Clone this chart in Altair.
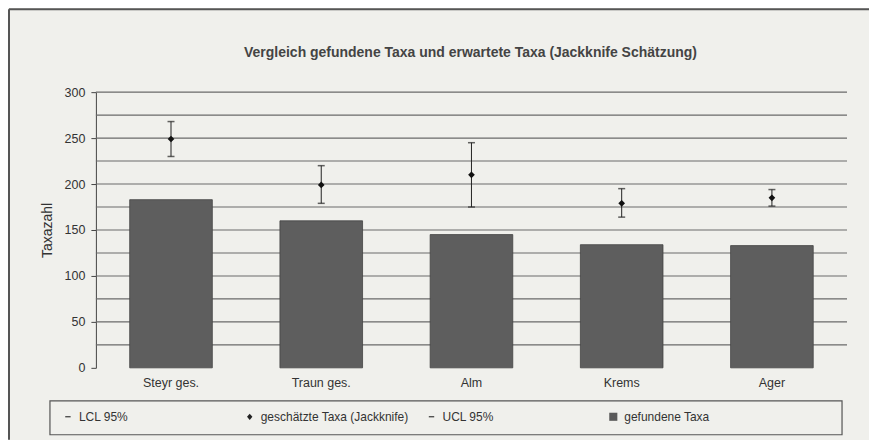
import altair as alt
import pandas as pd

categories = ["Steyr ges.", "Traun ges.", "Alm", "Krems", "Ager"]
found_taxa = [183, 160, 145, 134, 133]
jackknife = [249, 199, 210, 179, 185]
lcl_95 = [230, 179, 175, 164, 176]
ucl_95 = [268, 220, 245, 195, 194]
grid_values = [25, 50, 75, 100, 125, 150, 175, 200, 225, 250, 275, 300]
y_tick_values = [0, 50, 100, 150, 200, 250, 300]
title_text = "Vergleich gefundene Taxa und erwartete Taxa (Jackknife Schätzung)"
legend_names = ["LCL 95%", "geschätzte Taxa (Jackknife)", "UCL 95%", "gefundene Taxa"]
legend_colors = ["#222222", "#222222", "#222222", "#5a5a5a"]
legend_shapes = [
    "M-0.6,-0.12H0.6V0.12H-0.6Z",
    "M0,-0.7L0.6,0L0,0.7L-0.6,0Z",
    "M-0.6,-0.12H0.6V0.12H-0.6Z",
    "M-0.9,-0.9H0.9V0.9H-0.9Z",
]

df = pd.DataFrame({
    "cat": categories,
    "found": found_taxa,
    "jk": jackknife,
    "lcl": lcl_95,
    "ucl": ucl_95,
})
grid_df = pd.DataFrame({"g": grid_values})
# legend helper points sit hidden behind the first bar
legend_df = pd.DataFrame({"series": legend_names, "cat": [categories[0]] * 4, "v": [100] * 4})
one = pd.DataFrame({"a": [0]})

FONT = "Liberation Sans"
W, H = 752, 276

x_scale = alt.Scale(paddingInner=0.45, paddingOuter=0.225)
x_axis = alt.Axis(labelAngle=0, labelFont=FONT, labelFontSize=12.5,
                  labelColor="#333333", labelPadding=9, ticks=False, domain=False)
y_scale = alt.Scale(domain=[0, 300], nice=False)
y_axis = alt.Axis(values=y_tick_values, grid=False, tickSize=5, tickColor="#444444",
                  domainColor="#444444", labelFont=FONT, labelFontSize=12.5,
                  labelColor="#333333", labelPadding=6, titleFont=FONT, titleFontSize=14,
                  titleFontWeight="normal", titleColor="#333333", titlePadding=10)


def X():
    return alt.X("cat:N", sort=categories, title=None, scale=x_scale, axis=x_axis)


def Y(field):
    return alt.Y(field, scale=y_scale, title="Taxazahl", axis=y_axis)


grid = alt.Chart(grid_df).mark_rule(color="#6a6a6a", strokeWidth=1.1).encode(
    y=Y("g:Q")
)

legend_layer = alt.Chart(legend_df).mark_point(filled=True, opacity=1).encode(
    x=X(),
    y=Y("v:Q"),
    color=alt.Color("series:N", scale=alt.Scale(domain=legend_names, range=legend_colors),
                    legend=alt.Legend(title=None, orient="none", legendX=-34, legendY=319,
                                      direction="horizontal", columns=4, gridAlign="all",
                                      columnPadding=16, symbolSize=81, symbolOpacity=1,
                                      symbolStrokeWidth=0, labelOffset=5,
                                      labelFont=FONT, labelFontSize=12,
                                      labelColor="#333333", labelLimit=300)),
    shape=alt.Shape("series:N", scale=alt.Scale(domain=legend_names, range=legend_shapes)),
)

bars = alt.Chart(df).mark_bar(color="#5e5e5e", stroke="#444444", strokeWidth=0.8).encode(
    x=X(),
    y=Y("found:Q"),
)

err = alt.Chart(df).mark_rule(color="#222222", strokeWidth=1).encode(
    x=X(),
    y=Y("lcl:Q"),
    y2="ucl:Q",
)
lcl_tick = alt.Chart(df).mark_tick(color="#222222", size=7, thickness=1.5, orient="horizontal").encode(
    x=X(),
    y=Y("lcl:Q"),
)
ucl_tick = alt.Chart(df).mark_tick(color="#222222", size=7, thickness=1.5, orient="horizontal").encode(
    x=X(),
    y=Y("ucl:Q"),
)
pts = alt.Chart(df).mark_point(shape="diamond", filled=True, color="#111111", size=45, opacity=1).encode(
    x=X(),
    y=Y("jk:Q"),
)

title_mark = alt.Chart(one).mark_text(font=FONT, fontSize=14, fontWeight="bold",
                                      color="#444444", align="center", baseline="middle").encode(
    x=alt.value(W / 2 - 1), y=alt.value(-39), text=alt.value(title_text)
)
legend_box = alt.Chart(one).mark_rect(fill=None, stroke="#555555", strokeWidth=1.2).encode(
    x=alt.value(-46), x2=alt.value(747), y=alt.value(309), y2=alt.value(343)
)
frame_top = alt.Chart(one).mark_rule(color="#555555", strokeWidth=2).encode(
    x=alt.value(-87), x2=alt.value(774), y=alt.value(-83)
)
frame_left = alt.Chart(one).mark_rule(color="#555555", strokeWidth=2).encode(
    x=alt.value(-87), y=alt.value(-83), y2=alt.value(348)
)

chart = alt.layer(
    grid, legend_layer, bars, err, lcl_tick, ucl_tick, pts,
    title_mark, legend_box, frame_top, frame_left
).resolve_scale(x="shared", y="shared").properties(
    width=W, height=H,
    autosize=alt.AutoSizeParams(type="none"),
    padding={"left": 88, "top": 84, "right": 22, "bottom": 72},
).configure(background="#f0f0ec").configure_view(stroke=None)

chart.save("out.html", embed_options={"renderer": "svg", "actions": False})
